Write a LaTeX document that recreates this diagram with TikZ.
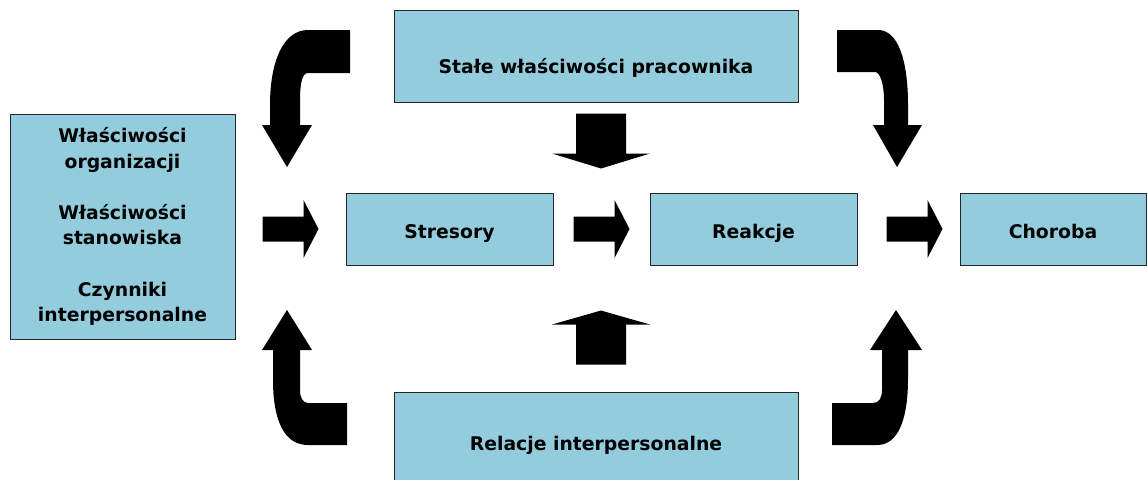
\documentclass[tikz,border=0pt]{standalone}
\usepackage{fontspec}
\setmainfont{DejaVu Sans}
\usepackage{tikz}
\usetikzlibrary{calc}
\definecolor{boxblue}{RGB}{147,205,221}
\tikzstyle{box}=[draw=black!85, line width=1pt, fill=boxblue, inner sep=0pt, align=center, font=\fontsize{18.8}{25.6}\selectfont\bfseries]
\tikzstyle{midbox}=[box, text height=45pt, text depth=27pt]
\tikzstyle{blockarrow}=[fill=black]

\begin{document}
\begin{tikzpicture}[x=1pt, y=-1pt]
\useasboundingbox (0,0) rectangle (1147,479);
\node[box, minimum width=404pt, text height=63pt, text depth=29pt] at (596,56) (Stale) {Stałe właściwości pracownika};
\node[box, minimum width=225pt, minimum height=225pt] at (122.5,226.5) (Wlasc) {Właściwości\\organizacji\\[25.6pt]Właściwości\\stanowiska\\[25.6pt]Czynniki\\interpersonalne};
\node[midbox, minimum width=207pt] at (449.5,229) (Stres) {Stresory};
\node[midbox, minimum width=207pt] at (753.5,229) (Reak) {Reakcje};
\node[midbox, minimum width=186pt] at (1053,229) (Chor) {Choroba};
\node[box, minimum width=404pt, minimum height=106pt] at (596,445) (Rel) {Relacje interpersonalne};
\coordinate (R1) at ($(Wlasc.east |- Stres.west)+(27,0)$);
\coordinate (R2) at ($(Stres.east)+(20,0)$);
\coordinate (R3) at ($(Reak.east)+(29,0)$);
\coordinate (D1) at ($(Stale.south)+(5,11)$);
\coordinate (U1) at ($(Rel.north)+(5,-81)$);
\fill[blockarrow] ($(R1)+(0,-12.5)$) -- ++(41,0) -- ++(0,-16.5) -- ++(15,29) -- ++(-15,29) -- ++(0,-16.5) -- ++(-41,0) -- cycle;
\fill[blockarrow] ($(R2)+(0,-12.5)$) -- ++(41,0) -- ++(0,-16.5) -- ++(15,29) -- ++(-15,29) -- ++(0,-16.5) -- ++(-41,0) -- cycle;
\fill[blockarrow] ($(R3)+(0,-12.5)$) -- ++(41,0) -- ++(0,-16.5) -- ++(15,29) -- ++(-15,29) -- ++(0,-16.5) -- ++(-41,0) -- cycle;
\fill[blockarrow] ($(D1)+(-25,0)$) -- ++(50,0) -- ++(0,40) -- ++(24,0) -- ++(-49,15) -- ++(-49,-15) -- ++(24,0) -- cycle;
\fill[blockarrow] (U1) -- ++(49,14) -- ++(-24,0) -- ++(0,40) -- ++(-50,0) -- ++(0,-40) -- ++(-24,0) -- cycle;
\fill[blockarrow] (350,30) -- (308,30) .. controls (284,30) and (270,60) .. (270,105) -- (270,125) -- (262,125) -- (287,167) -- (312,125) -- (300,125) -- (300,100) .. controls (300,84) and (302,73) .. (308,73) -- (350,73) -- cycle;
\fill[blockarrow] (837,30) -- (878,30) .. controls (898,30) and (908,60) .. (908,105) -- (908,125) -- (922,125) -- (897,167) -- (873,125) -- (884,125) -- (884,100) .. controls (884,84) and (880,72) .. (875,72) -- (837,72) -- cycle;
\fill[blockarrow] (262,350) -- (287,310) -- (312,350) -- (300,350) -- (300,390) .. controls (300,398) and (303,403) .. (308,403) -- (347,403) -- (347,445) -- (308,445) .. controls (284,445) and (273,420) .. (273,380) -- (273,350) -- cycle;
\fill[blockarrow] (922,350) -- (896,310) -- (870,350) -- (882,350) -- (882,390) .. controls (882,398) and (879,403) .. (873,403) -- (832,403) -- (832,445) -- (877,445) .. controls (898,445) and (908,420) .. (908,378) -- (908,350) -- cycle;
\end{tikzpicture}
\end{document}
